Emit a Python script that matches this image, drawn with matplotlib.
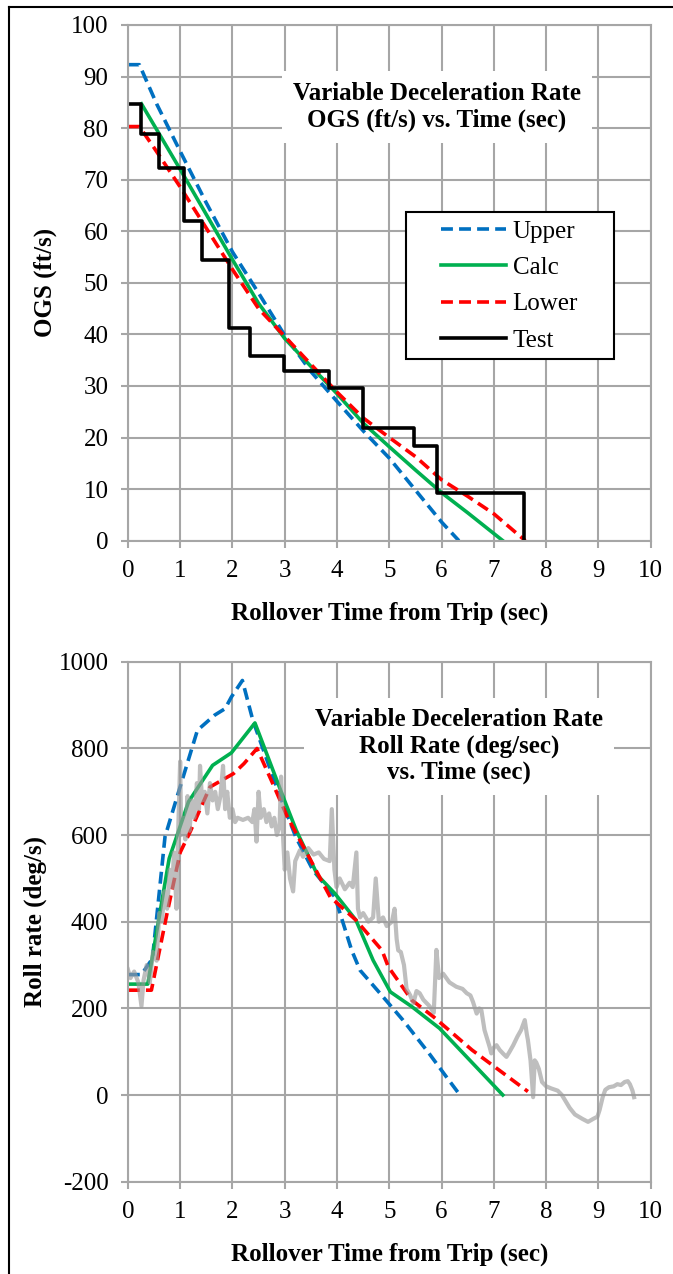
import numpy as np
import matplotlib
matplotlib.use("Agg")
import matplotlib.pyplot as plt
from matplotlib.lines import Line2D
from matplotlib.patches import Rectangle

plt.rcParams['font.family'] = ['Liberation Serif', 'DejaVu Serif']
plt.rcParams['axes.unicode_minus'] = False

# ---- OGS vs time (top) ----
ogs_upper_t = [0, 0.22, 0.55, 1.0, 1.5, 2.0, 2.5, 3.0, 3.5, 4.0, 4.5, 5.0, 5.5, 6.0, 6.33]
ogs_upper_v = [92.3, 92.3, 84.7, 75.5, 65.5, 56.0, 48.0, 39.8, 32.8, 27.0, 21.3, 16.0, 9.8, 3.6, 0]

ogs_calc_t = [0.26, 1.0, 2.0, 2.5, 3.0, 3.5, 4.0, 4.5, 5.0, 5.5, 6.0, 6.5, 7.17]
ogs_calc_v = [84.7, 72.0, 54.5, 46.0, 39.2, 33.8, 28.5, 22.8, 18.2, 13.7, 9.3, 5.4, 0]

ogs_lower_t = [0, 0.22, 0.5, 1.0, 1.5, 2.0, 2.5, 3.0, 3.5, 4.0, 4.5, 5.0, 5.5, 6.0, 6.5, 7.0, 7.6]
ogs_lower_v = [80.3, 80.3, 76.2, 68.6, 60.6, 52.6, 45.0, 39.6, 34.2, 28.8, 23.8, 20.0, 16.3, 11.8, 8.6, 5.2, 0]

ogs_test_t = [0, 0.26, 0.6, 1.08, 1.41, 1.93, 2.34, 2.98, 3.85, 4.49, 5.47, 5.91, 7.58]
ogs_test_v = [84.6, 78.8, 72.3, 62.0, 54.5, 41.3, 35.8, 32.9, 29.6, 21.9, 18.3, 9.2, 0]

# ---- Roll rate vs time (bottom) ----
roll_upper_t = [0, 0.26, 0.47, 0.71, 0.92, 1.33, 1.66, 1.86, 1.98, 2.19, 2.39, 2.64, 2.89, 3.21,
                3.54, 3.96, 4.28, 4.44, 4.77, 5.26, 5.76, 6.09, 6.35]
roll_upper_v = [278, 278, 315, 596, 680, 842, 877, 892, 919, 957, 865, 780, 696, 596,
                519, 457, 334, 288, 242, 173, 96, 42, 0]

roll_calc_t = [0, 0.38, 0.79, 1.16, 1.62, 1.98, 2.43, 2.97, 3.22, 3.63, 3.96, 4.36, 4.69,
               5.02, 5.43, 5.96, 7.17]
roll_calc_v = [256, 256, 546, 677, 761, 790, 859, 688, 611, 507, 465, 404, 311,
               238, 204, 154, 0]

roll_lower_t = [0, 0.45, 0.75, 1.0, 1.2, 1.57, 2.02, 2.22, 2.47, 2.8, 3.05, 3.46, 3.87, 4.36,
                4.86, 4.98, 5.43, 5.84, 6.58, 7.65]
roll_lower_v = [242, 242, 420, 560, 610, 711, 742, 765, 800, 711, 642, 550, 457, 404,
                334, 296, 219, 181, 104, 8]

roll_test_t = [0.0, 0.05, 0.12, 0.2, 0.26, 0.3, 0.36, 0.42, 0.48, 0.55, 0.6, 0.65, 0.7, 0.75,
               0.8, 0.85, 0.88, 0.93, 0.96, 1.0, 1.02, 1.06, 1.1, 1.14, 1.18, 1.22, 1.27, 1.32,
               1.36, 1.38, 1.42, 1.47, 1.52, 1.57, 1.62, 1.67, 1.72, 1.77, 1.82, 1.86, 1.9, 1.95,
               2.0, 2.05, 2.1, 2.2, 2.3, 2.38, 2.42, 2.46, 2.5, 2.54, 2.6, 2.65, 2.7, 2.75, 2.8,
               2.85, 2.9, 2.93, 2.97, 3.0, 3.05, 3.1, 3.16, 3.2, 3.29, 3.35, 3.45, 3.55, 3.65,
               3.75, 3.86, 3.9, 3.95, 3.99, 4.05, 4.15, 4.24, 4.3, 4.37, 4.4, 4.44, 4.5, 4.6,
               4.69, 4.74, 4.8, 4.88, 4.95, 5.05, 5.1, 5.14, 5.17, 5.22, 5.28, 5.33, 5.4, 5.46,
               5.52, 5.58, 5.65, 5.77, 5.85, 5.9, 5.95, 6.03, 6.15, 6.28, 6.4, 6.48, 6.55, 6.6,
               6.67, 6.72, 6.76, 6.82, 6.86, 6.92, 6.95, 7.0, 7.05, 7.11, 7.18, 7.24, 7.3, 7.37,
               7.45, 7.52, 7.59, 7.63, 7.65, 7.7, 7.75, 7.78, 7.81, 7.86, 7.92, 8.0, 8.1, 8.22,
               8.3, 8.36, 8.45, 8.55, 8.69, 8.8, 8.9, 8.98, 9.02, 9.08, 9.13, 9.2, 9.29, 9.36,
               9.43, 9.5, 9.56, 9.6, 9.65, 9.68]
roll_test_v = [290, 270, 285, 260, 205, 265, 300, 260, 330, 310, 420, 400, 470, 430,
               520, 480, 560, 430, 600, 770, 600, 640, 590, 690, 610, 680, 640, 720,
               660, 760, 680, 700, 650, 720, 680, 700, 660, 690, 760, 660, 700, 640,
               660, 630, 640, 635, 640, 630, 660, 585, 700, 640, 660, 630, 650, 620, 640,
               600, 620, 735, 590, 520, 560, 500, 470, 540, 565, 550, 570, 555, 560,
               545, 540, 660, 520, 480, 500, 475, 490, 480, 560, 430, 410, 420, 400,
               410, 500, 400, 410, 390, 400, 430, 360, 334, 330, 300, 245, 230, 212,
               240, 235, 220, 205, 190, 335, 270, 280, 260, 250, 245, 235, 230, 215,
               188, 200, 196, 150, 134, 110, 96, 110, 115, 104, 95, 88, 100, 115,
               135, 150, 173, 140, 127, 80, -5, 80, 75, 60, 30, 20, 15, 10,
               0, -12, -30, -45, -55, -62, -55, -50, -35, -5, 12, 18, 20, 25,
               23, 30, 32, 25, 10, -5]

BLUE = '#0070C0'
GREEN = '#00B050'
RED = '#FF0000'
GRID = '#A6A6A6'
FS = 18
LW = 2.6
dash = (0, (3.3, 1.7))

fig = plt.figure(figsize=(6.73, 12.74), dpi=100)
ax1 = fig.add_axes([0.190, 0.5756, 0.777, 0.4048])
ax2 = fig.add_axes([0.190, 0.0725, 0.777, 0.408])


def style_axes(ax):
    ax.set_xlim(0, 10)
    ax.set_xticks(range(0, 11))
    ax.grid(True, color=GRID, linewidth=1.5)
    ax.set_axisbelow(True)
    for s in ax.spines.values():
        s.set_color(GRID)
        s.set_linewidth(1.5)
    ax.tick_params(axis='both', direction='out', length=5, width=1.5, color=GRID,
                   labelsize=FS)
    ax.tick_params(axis='y', pad=9)
    ax.tick_params(axis='x', pad=9)
    ax.set_xlabel('Rollover Time from Trip (sec)', fontsize=FS, fontweight='bold', labelpad=14)


# top chart
ax1.plot(ogs_upper_t, ogs_upper_v, color=BLUE, lw=LW, ls=dash, label='Upper')
ax1.plot(ogs_calc_t, ogs_calc_v, color=GREEN, lw=LW, label='Calc')
ax1.plot(ogs_lower_t, ogs_lower_v, color=RED, lw=LW, ls=dash, label='Lower')
ax1.step(ogs_test_t, ogs_test_v, where='post', color='black', lw=LW, label='Test')
style_axes(ax1)
ax1.set_ylim(0, 100)
ax1.set_yticks(range(0, 101, 10))
ax1.set_ylabel('OGS (ft/s)', fontsize=FS, fontweight='bold', labelpad=10)
ax1.text(0.591, 0.8416, 'Variable Deceleration Rate\nOGS (ft/s) vs. Time (sec)',
         transform=ax1.transAxes, ha='center', va='center', fontsize=FS, fontweight='bold',
         bbox=dict(facecolor='white', edgecolor='none', pad=8))
ax1.add_patch(Rectangle((0.531, 0.352), 0.399, 0.285, transform=ax1.transAxes,
                        facecolor='white', edgecolor='black', lw=1.5, zorder=4))
leg = ax1.legend(loc='center', bbox_to_anchor=(0.73, 0.494), frameon=False, fontsize=FS,
                 handlelength=2.6, handletextpad=0.25, labelspacing=0.55)
leg.set_zorder(5)

# bottom chart
ax2.plot(roll_upper_t, roll_upper_v, color=BLUE, lw=LW, ls=dash)
ax2.plot(roll_calc_t, roll_calc_v, color=GREEN, lw=LW)
ax2.plot(roll_lower_t, roll_lower_v, color=RED, lw=LW, ls=dash)
ax2.plot(roll_test_t, roll_test_v, color='#9B9B9B', lw=3.0, alpha=0.65)
style_axes(ax2)
ax2.set_ylim(-200, 1000)
ax2.set_yticks(range(-200, 1001, 200))
ax2.set_ylabel('Roll rate (deg/s)', fontsize=FS, fontweight='bold', labelpad=8)
ax2.text(0.633, 0.838, 'Variable Deceleration Rate\nRoll Rate (deg/sec)\nvs. Time (sec)',
         transform=ax2.transAxes, ha='center', va='center', fontsize=FS, fontweight='bold',
         linespacing=1.15, bbox=dict(facecolor='white', edgecolor='none', pad=8))

# frame lines at left and top of the figure
fig.add_artist(Line2D([0.0128, 0.0128], [0, 0.9943], color='black', lw=1.5))
fig.add_artist(Line2D([0.0128, 1], [0.9943, 0.9943], color='black', lw=1.5))

fig.savefig('out.png', dpi=100)
